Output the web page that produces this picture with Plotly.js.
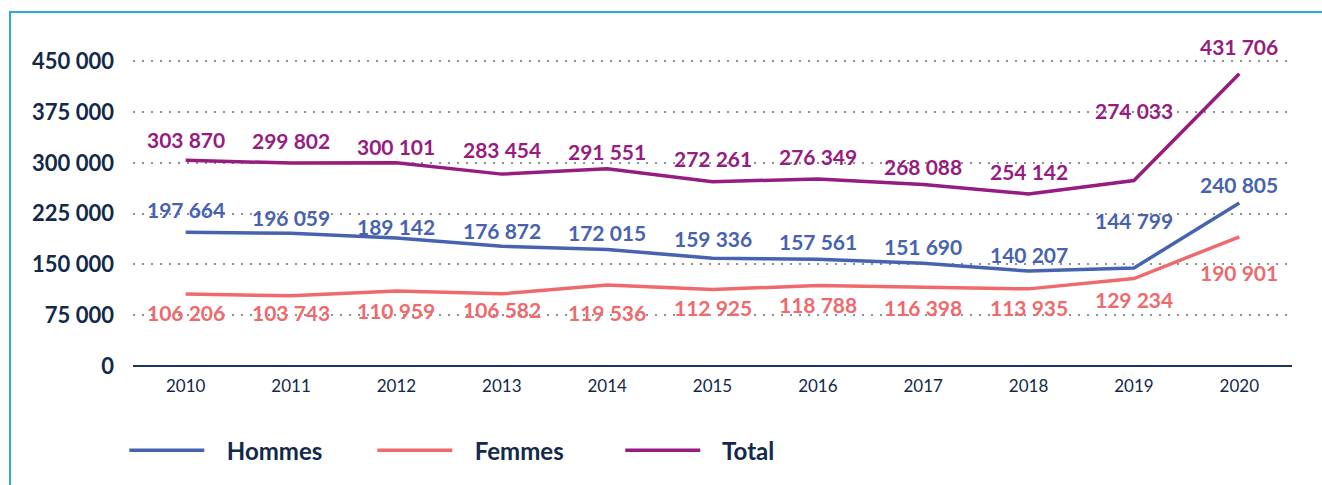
<!DOCTYPE html>
<html>
<head>
<meta charset="utf-8">
<script src="https://cdn.plot.ly/plotly-3.0.1.min.js"></script>
<style>
  html, body { margin: 0; padding: 0; background: #ffffff; }
  #chart { width: 1322px; height: 485px; }
  #frame { position: absolute; left: 9px; top: 11px; right: 0; bottom: 0;
           border-left: 2px solid #2ea6df; border-top: 2px solid #2ea6df; pointer-events: none; }
</style>
</head>
<body>
<div id="chart"></div>
<div id="frame"></div>
<script>
// ---- data ----
const years = [2010, 2011, 2012, 2013, 2014, 2015, 2016, 2017, 2018, 2019, 2020];
const hommes = [197664, 196059, 189142, 176872, 172015, 159336, 157561, 151690, 140207, 144799, 240805];
const femmes = [106206, 103743, 110959, 106582, 119536, 112925, 118788, 116398, 113935, 129234, 190901];
const total  = [303870, 299802, 300101, 283454, 291551, 272261, 276349, 268088, 254142, 274033, 431706];
const yTickVals = [0, 75000, 150000, 225000, 300000, 375000, 450000];
const seriesNames = ['Hommes', 'Femmes', 'Total'];

// ---- label placement (pixel offsets, positive = above the point) ----
const shiftHommes = [23, 16, 11, 16, 17, 20, 18, 17, 17, 47, 18];
const shiftFemmes = [-18, -17, -20, -16, -27, -18, -19, -20, -19, -21, -36];
const shiftTotal  = [21, 23, 16, 25, 17, 23, 22, 18, 22, 70, 27];

const colHommes = '#4763af';
const colFemmes = '#ee6a6c';
const colTotal  = '#961c80';
const navy = '#12294a';
const pad = '\u00a0\u00a0\u00a0';

function fmt(v) { return String(v).replace(/\B(?=(\d{3})+(?!\d))/g, ' '); }

const traces = [
  {x: years, y: hommes, name: pad + seriesNames[0], type: 'scatter', mode: 'lines',
   line: {color: colHommes, width: 3.5}},
  {x: years, y: femmes, name: pad + seriesNames[1], type: 'scatter', mode: 'lines',
   line: {color: colFemmes, width: 3.5}},
  {x: years, y: total, name: pad + seriesNames[2], type: 'scatter', mode: 'lines',
   line: {color: colTotal, width: 3.5}}
];

const annotations = [];
function addLabels(vals, shifts, color) {
  vals.forEach((v, i) => {
    annotations.push({
      x: years[i], y: v, xref: 'x', yref: 'y', text: fmt(v), showarrow: false,
      yshift: shifts[i], xanchor: 'center', yanchor: 'middle',
      font: {family: 'Lato, sans-serif', size: 21, color: color, weight: 700}
    });
  });
}
addLabels(total, shiftTotal, colTotal);
addLabels(hommes, shiftHommes, colHommes);
addLabels(femmes, shiftFemmes, colFemmes);

const layout = {
  width: 1322, height: 485,
  margin: {l: 133, r: 30, t: 58, b: 117},
  paper_bgcolor: 'rgba(0,0,0,0)', plot_bgcolor: '#ffffff',
  font: {family: 'Lato, sans-serif', color: navy},
  showlegend: true,
  legend: {
    orientation: 'h', x: -0.0075, xanchor: 'left', y: -0.275, yanchor: 'middle',
    font: {family: 'Lato, sans-serif', size: 24, color: navy, weight: 700},
    itemwidth: 75, entrywidth: 158, entrywidthmode: 'pixels',
    bgcolor: 'rgba(0,0,0,0)'
  },
  xaxis: {
    range: [2009.5, 2020.5], tickvals: years, ticktext: years.map(String),
    showgrid: false, zeroline: false, showline: false, ticks: '',
    tickfont: {family: 'Lato, sans-serif', size: 17, color: navy},
    ticklabelstandoff: 8
  },
  yaxis: {
    range: [0, 455000], tickvals: yTickVals, ticktext: yTickVals.map(fmt),
    showgrid: true, gridcolor: '#8f8f8f', gridwidth: 2, griddash: '2px,7px',
    zeroline: true, zerolinecolor: '#1b3560', zerolinewidth: 1.5,
    showline: false, ticks: '',
    tickfont: {family: 'Lato, sans-serif', size: 22, color: navy, weight: 700},
    ticklabelstandoff: 18
  },
  annotations: annotations
};

Plotly.newPlot('chart', traces, layout, {staticPlot: true, displayModeBar: false});
</script>
</body>
</html>
